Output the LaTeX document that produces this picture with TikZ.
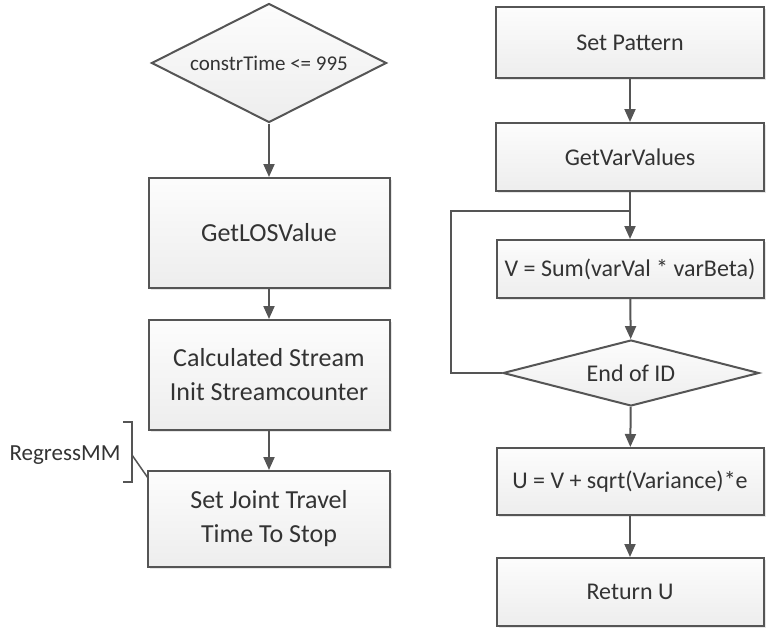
\documentclass[tikz,border=0pt]{standalone}
\usepackage{fontspec}
\setmainfont{Carlito}
\usepackage{tikz}
\usetikzlibrary{shapes.geometric,arrows.meta,positioning,shadows}
\definecolor{edgegray}{HTML}{555555}
\definecolor{txtgray}{HTML}{333333}
\tikzstyle{line} = [draw, edgegray, line width = 2pt]
\tikzstyle{line2} = [draw, edgegray, line width = 2pt, -{Triangle[length = 13pt, width = 11pt]}]
\tikzstyle{block} = [rectangle, draw = edgegray, line width = 2pt, top color = gray!2, bottom color = gray!14, text = txtgray, align = center, font = \fontsize{24}{32}\selectfont, drop shadow = {opacity = 0.2, shadow xshift = 2pt, shadow yshift = -2pt}]
\tikzstyle{bigblock} = [block, font = \fontsize{26}{34}\selectfont]
\tikzstyle{decision} = [diamond, draw = edgegray, line width = 2pt, top color = gray!2, bottom color = gray!14, text = txtgray, aspect = 2, inner sep = 0pt]
\tikzstyle{note} = [text = txtgray, font = \fontsize{23}{26}\selectfont]

\begin{document}
\begin{tikzpicture}[x = 1pt, y = -1pt]
			\useasboundingbox (0, 0) rectangle (779, 635);
			% Place nodes
			\node [decision, minimum width = 235pt, minimum height = 119pt, font = \fontsize{21}{24}\selectfont] (constr) at (269, 63) {constrTime <= 995};
			\node [bigblock, minimum width = 241pt, minimum height = 110pt] (getlos) at (269, 233) {GetLOSValue};
			\node [bigblock, minimum width = 241pt, minimum height = 110pt] (stream) at (269, 375) {Calculated Stream\\Init Streamcounter};
			\node [bigblock, minimum width = 242pt, minimum height = 96pt] (joint) at (269, 519) {Set Joint Travel\\Time To Stop};
			\node [note] (regress) at (65, 455) {RegressMM};
			\coordinate (brtop) at (123, 422);
			\coordinate (brbot) at (123, 482);
			\coordinate (brmid) at (132, 455);
			\coordinate (brend) at (148, 478);
			\node [block, minimum width = 268pt, minimum height = 71pt] (pattern) at (630, 42.5) {Set Pattern};
			\node [block, minimum width = 268pt, minimum height = 68pt] (varvalues) at (630, 157) {GetVarValues};
			\node [block, minimum width = 267pt, minimum height = 58pt] (vsum) at (630, 269) {V = Sum(varVal * varBeta)};
			\node [decision, minimum width = 256pt, minimum height = 66pt, font = \fontsize{24}{28}\selectfont] (endid) at (631, 373) {End of ID};
			\node [block, minimum width = 267pt, minimum height = 67pt] (ucalc) at (630, 481.5) {U = V + sqrt(Variance)*e};
			\node [block, minimum width = 267pt, minimum height = 68pt] (retu) at (630, 592) {Return U};
			\coordinate (loopjoin) at (630, 211);
			% Draw edges
			\path [line2] (constr) -- (getlos);
			\path [line2] (getlos) -- (stream);
			\path [line2] (stream) -- (joint);
			\path [line] (brtop) -- (brtop -| brmid) -- (brbot -| brmid) -- (brbot);
			\path [line, line width = 1.5pt] (brmid) -- (brend);
			\path [line2] (pattern) -- (varvalues);
			\path [line2] (varvalues) -- (vsum);
			\path [line2] (vsum) -- (endid);
			\path [line] (endid.west) -- ++(-51, 0) |- (loopjoin);
			\path [line2] (endid) -- (ucalc);
			\path [line2] (ucalc) -- (retu);
		\end{tikzpicture}
\end{document}
